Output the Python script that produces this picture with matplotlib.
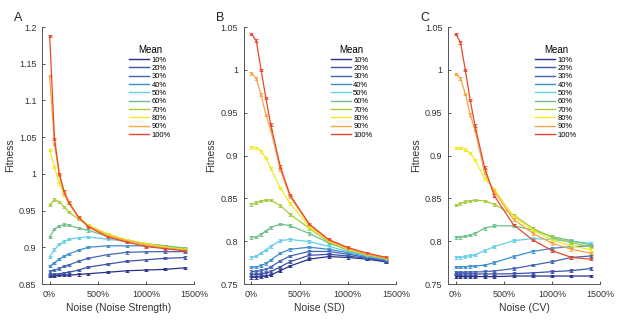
#!/usr/bin/env python3
"""Fitness vs noise for different mean levels (three noise definitions)."""

import matplotlib

matplotlib.use("Agg")
import matplotlib.pyplot as plt
from matplotlib.lines import Line2D

plt.rcParams["font.family"] = ["Liberation Sans", "DejaVu Sans"]

NOISE = [0, 50, 100, 150, 200, 300, 400, 600, 800, 1000, 1200, 1400]
MEANS = ["10%", "20%", "30%", "40%", "50%", "60%", "70%", "80%", "90%", "100%"]
COLORS = ["#27318a", "#3d52a8", "#4363b4", "#3b8fd0", "#62cfe6",
          "#6fc08a", "#a5cc3c", "#f2ea1e", "#f4a546", "#e8482a"]

# Panel A: noise strength
FIT_A = [
    [0.861, 0.861, 0.862, 0.862, 0.862, 0.863, 0.864, 0.866, 0.868, 0.869, 0.870, 0.872],
    [0.862, 0.863, 0.864, 0.865, 0.866, 0.869, 0.873, 0.877, 0.881, 0.883, 0.885, 0.886],
    [0.867, 0.869, 0.871, 0.874, 0.876, 0.881, 0.885, 0.890, 0.893, 0.894, 0.894, 0.894],
    [0.874, 0.879, 0.884, 0.888, 0.891, 0.896, 0.900, 0.902, 0.902, 0.902, 0.900, 0.898],
    [0.887, 0.897, 0.904, 0.908, 0.911, 0.913, 0.914, 0.911, 0.908, 0.905, 0.901, 0.898],
    [0.914, 0.925, 0.929, 0.931, 0.930, 0.926, 0.923, 0.915, 0.909, 0.905, 0.902, 0.899],
    [0.958, 0.965, 0.962, 0.955, 0.948, 0.938, 0.930, 0.918, 0.910, 0.905, 0.901, 0.898],
    [1.033, 1.009, 0.987, 0.972, 0.960, 0.941, 0.930, 0.918, 0.910, 0.905, 0.900, 0.897],
    [1.133, 1.041, 0.998, 0.973, 0.960, 0.940, 0.929, 0.916, 0.909, 0.903, 0.899, 0.896],
    [1.188, 1.048, 1.000, 0.976, 0.961, 0.941, 0.928, 0.914, 0.907, 0.901, 0.898, 0.895],
]

# Panel B: SD
FIT_B = [
    [0.7578, 0.7578, 0.7586, 0.7593, 0.7605, 0.7656, 0.771, 0.779, 0.782, 0.781, 0.779, 0.7757],
    [0.7605, 0.761, 0.7613, 0.7625, 0.7644, 0.770, 0.776, 0.7835, 0.7847, 0.7827, 0.780, 0.7765],
    [0.7644, 0.7644, 0.7656, 0.767, 0.770, 0.777, 0.7827, 0.788, 0.788, 0.7847, 0.781, 0.777],
    [0.770, 0.770, 0.7714, 0.774, 0.778, 0.786, 0.7905, 0.793, 0.7905, 0.7866, 0.782, 0.778],
    [0.781, 0.7827, 0.786, 0.7897, 0.794, 0.8006, 0.802, 0.7995, 0.794, 0.788, 0.7827, 0.779],
    [0.8045, 0.805, 0.808, 0.812, 0.816, 0.820, 0.818, 0.809, 0.798, 0.7897, 0.7835, 0.779],
    [0.843, 0.845, 0.847, 0.848, 0.848, 0.8415, 0.8314, 0.815, 0.799, 0.7905, 0.784, 0.7796],
    [0.9096, 0.909, 0.905, 0.897, 0.885, 0.862, 0.844, 0.817, 0.8006, 0.7905, 0.7847, 0.780],
    [0.996, 0.990, 0.971, 0.9475, 0.930, 0.883, 0.852, 0.819, 0.801, 0.7917, 0.7847, 0.780],
    [1.042, 1.034, 1.000, 0.967, 0.936, 0.887, 0.854, 0.820, 0.802, 0.7925, 0.786, 0.781],
]

# Panel C: CV
FIT_C = [
    [0.7586, 0.7586, 0.7586, 0.7586, 0.7586, 0.7586, 0.7586, 0.7593, 0.7593, 0.7593, 0.7593, 0.7593],
    [0.7617, 0.7617, 0.7617, 0.7617, 0.7617, 0.7617, 0.7617, 0.762, 0.763, 0.7644, 0.7656, 0.768],
    [0.7636, 0.7636, 0.7638, 0.764, 0.764, 0.7644, 0.7652, 0.768, 0.772, 0.776, 0.781, 0.7827],
    [0.770, 0.770, 0.770, 0.7705, 0.771, 0.772, 0.775, 0.782, 0.788, 0.7917, 0.7936, 0.7944],
    [0.781, 0.781, 0.782, 0.783, 0.784, 0.789, 0.7936, 0.8006, 0.803, 0.802, 0.7995, 0.7975],
    [0.8045, 0.8045, 0.806, 0.807, 0.809, 0.815, 0.818, 0.818, 0.813, 0.8053, 0.8006, 0.7956],
    [0.842, 0.844, 0.846, 0.847, 0.848, 0.847, 0.843, 0.8306, 0.815, 0.8045, 0.798, 0.7936],
    [0.909, 0.909, 0.907, 0.903, 0.895, 0.8735, 0.8606, 0.829, 0.813, 0.8014, 0.7944, 0.790],
    [0.995, 0.990, 0.972, 0.948, 0.930, 0.880, 0.858, 0.8256, 0.809, 0.7975, 0.7905, 0.786],
    [1.042, 1.032, 1.000, 0.965, 0.935, 0.886, 0.853, 0.819, 0.8014, 0.789, 0.781, 0.779],
]

ERR = 0.0015

PANELS = [
    ("A", FIT_A, "Noise (Noise Strength)", (0.85, 1.2), [0.85, 0.9, 0.95, 1.0, 1.05, 1.1, 1.15, 1.2]),
    ("B", FIT_B, "Noise (SD)", (0.75, 1.05), [0.75, 0.8, 0.85, 0.9, 0.95, 1.0, 1.05]),
    ("C", FIT_C, "Noise (CV)", (0.75, 1.05), [0.75, 0.8, 0.85, 0.9, 0.95, 1.0, 1.05]),
]
AX_LEFTS = [0.068, 0.395, 0.726]
AXIS_GRAY = "#555555"


def fmt_tick(v: float) -> str:
    return f"{v:.2f}".rstrip("0").rstrip(".")


def main() -> None:
    fig = plt.figure(figsize=(6.17, 3.2), dpi=100)
    for left, (letter, fits, xlabel, ylim, yticks) in zip(AX_LEFTS, PANELS):
        ax = fig.add_axes([left, 0.1125, 0.247, 0.803])
        for color, vals in zip(COLORS, fits):
            ax.errorbar(NOISE, vals, yerr=ERR, color=color, lw=0.9,
                        elinewidth=0.7, capsize=1.3, capthick=0.6,
                        marker=".", markersize=1.5)
        ax.set_xlim(-80, 1500)
        ax.set_ylim(*ylim)
        ax.set_xticks([0, 500, 1000, 1500], ["0%", "500%", "1000%", "1500%"])
        ax.set_yticks(yticks, [fmt_tick(v) for v in yticks])
        ax.tick_params(direction="in", length=2.5, width=0.6, labelsize=6.5,
                       colors="#333333", pad=4)
        for side in ("top", "right"):
            ax.spines[side].set_visible(False)
        for side in ("left", "bottom"):
            ax.spines[side].set_color(AXIS_GRAY)
            ax.spines[side].set_linewidth(0.7)
        ax.set_xlabel(xlabel, fontsize=7.5, color="#333333", labelpad=3)
        ax.set_ylabel("Fitness", fontsize=7.5, color="#333333", labelpad=3)
        handles = [Line2D([], [], color=c, lw=1.0) for c in COLORS]
        ax.legend(handles, MEANS, title="Mean", loc="upper right",
                  bbox_to_anchor=(0.88, 0.95), frameon=False,
                  fontsize=5.5, title_fontsize=7, handlelength=2.6,
                  handletextpad=0.3, labelspacing=0.13, borderpad=0.2)
        fig.text(left - 0.045, 0.935, letter, fontsize=9, color="#222222")
    fig.savefig("out.png", dpi=100)
    plt.close(fig)


if __name__ == "__main__":
    main()
